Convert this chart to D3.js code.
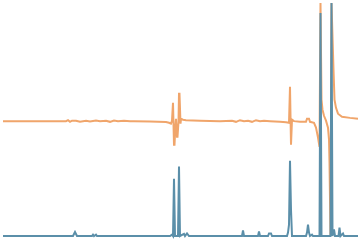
<!DOCTYPE html>
<html>
<head>
<meta charset="utf-8">
<script src="https://cdn.jsdelivr.net/npm/d3@7"></script>
<style>
  html, body { margin: 0; padding: 0; background: #fff; }
  svg { display: block; }
</style>
</head>
<body>
<svg id="chart" width="360" height="240"></svg>
<script>
const width = 360;
const height = 240;

const margin = {top: 3, right: 2, bottom: 4, left: 3};

// Dispersion (orange) trace: [point index, intensity]
const dispersion = [
  [0,49.3],[37,49.3],[63,49.3],[65,49.7],[67,49.0],[69,49.5],[73,49.5],[77,49.0],
  [83,49.5],[87,49.1],[93,49.6],[97,49.3],[103,49.5],[107,49.0],[111,49.6],[115,49.3],
  [121,49.5],[127,49.3],[131,49.3],[147,49.1],[163,48.9],[166,48.6],[168,48.2],[169,49.5],
  [170,57.2],[171,39.2],[171.5,39.2],[172.5,47.8],[173,50.3],[174,42.6],[174.5,42.6],[175.5,49.0],
  [176,61.0],[176.5,61.0],[177.5,48.2],[178,50.3],[180,49.9],[183,49.7],[197,49.5],[217,49.3],
  [229,49.5],[233,49.0],[237,49.7],[241,49.3],[245,49.5],[249,49.0],[253,49.7],[257,49.3],
  [261,49.5],[267,49.3],[277,49.0],[283,48.8],[286,48.6],[287,64.0],[288,39.2],[289,49.9],
  [291,49.3],[297,49.0],[303,49.0],[304,50.3],[306,50.3],[307,49.0],[311,48.6],[313,46.5],
  [315,42.2],[316.5,38.3],[317.5,100],[318.5,58.5],[319.5,54.2],[321,51.6],[323,49.5],[325,46.5],
  [326,41.3],[326.5,31.5],[327.5,0.2],[328.5,100],[330.5,71.3],[331.5,58.5],[333,55.0],[335,52.5],
  [339,51.2],[347,50.7],[355,50.3]
];

// Absorption (blue) trace: [point index, intensity]
const absorption = [
  [0,0],[70,0],[72,1.7],[74,0],[89,0],[90,0.6],[91,0],[93,0.6],[94,0],
  [167,0],[169,0.6],[170,0],[171,24.6],[172,0],[175,0],[176,29.8],[177,0],
  [181,0.9],[182,0],[184,1.1],[186,0],[239,0],[240,2.4],[241,0],[255,0],[256,1.9],[257,0],
  [265,0],[266,1.1],[268,1.1],[269,0],[284,0],[285,1.5],[286,4.9],[287,32.3],[288,11.3],[289,0],
  [303,0],[304,1.5],[305,4.9],[306,1.5],[307,0],[309,0.6],[310,0],
  [316.5,0],[317.5,95.7],[318.5,0],[327.5,0],[328.5,100],[329.5,0],[331,2.8],[332,0],
  [335.5,0],[336.5,3.6],[337.5,0],[340,1.1],[341,0],[355,0]
];

const svg = d3.select("#chart");

const x = d3.scaleLinear()
    .domain([0, 355])
    .range([margin.left, width - margin.right]);

const y = d3.scaleLinear()
    .domain([0, 100])
    .range([height - margin.bottom, margin.top]);

const line = d3.line()
    .x(d => x(d[0]))
    .y(d => y(d[1]));

svg.append("path")
    .datum(dispersion)
    .attr("fill", "none")
    .attr("stroke", "#f0a56b")
    .attr("stroke-width", 2)
    .attr("d", line);

svg.append("path")
    .datum(absorption)
    .attr("fill", "none")
    .attr("stroke", "#5b8fa9")
    .attr("stroke-width", 2)
    .attr("d", line);
</script>
</body>
</html>
